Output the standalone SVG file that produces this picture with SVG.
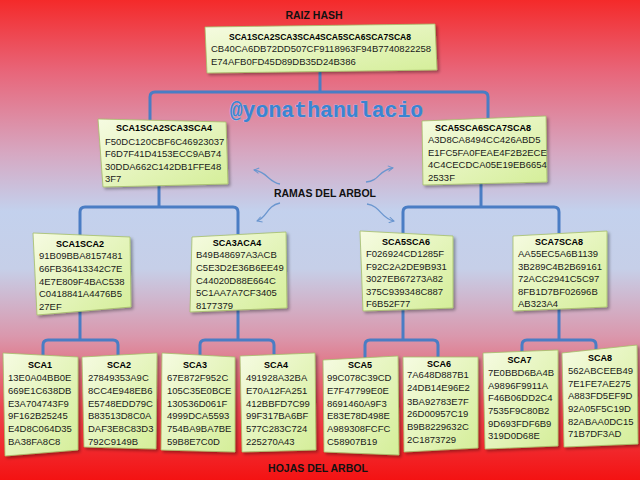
<svg xmlns="http://www.w3.org/2000/svg" width="640" height="480" viewBox="0 0 640 480">
<defs>
<linearGradient id="bg" x1="0" y1="0" x2="0" y2="1">
<stop offset="0" stop-color="#f42a2a"/>
<stop offset="0.15" stop-color="#e8667a"/>
<stop offset="0.32" stop-color="#d6a8c2"/>
<stop offset="0.44" stop-color="#c3d1ed"/>
<stop offset="0.56" stop-color="#c6cfe8"/>
<stop offset="0.7" stop-color="#da98ad"/>
<stop offset="0.85" stop-color="#ec4650"/>
<stop offset="1" stop-color="#f41212"/>
</linearGradient>
<linearGradient id="paper" x1="0" y1="0" x2="1" y2="1">
<stop offset="0" stop-color="#f6fbe2"/>
<stop offset="1" stop-color="#d4ee98"/>
</linearGradient>
<filter id="sh" x="-10%" y="-10%" width="125%" height="125%">
<feDropShadow dx="2" dy="2" stdDeviation="1.5" flood-color="#000" flood-opacity="0.35"/>
</filter>
<marker id="ah" viewBox="0 0 10 10" refX="8" refY="5" markerWidth="7" markerHeight="7" orient="auto-start-reverse" markerUnits="userSpaceOnUse">
<path d="M1,1 L8,5 L1,9" fill="none" stroke="#6a96cf" stroke-width="1.4"/>
</marker>
<style>
.box{fill:url(#paper);stroke:#a4bf68;stroke-width:0.8;filter:url(#sh)}
.t{font-family:"Liberation Sans",Arial,sans-serif;font-size:9.5px;fill:#1a1a1a}
.h{font-family:"Liberation Sans",Arial,sans-serif;font-size:9px;font-weight:bold;fill:#000;text-anchor:middle}
.lbl{font-family:"Liberation Sans",Arial,sans-serif;font-size:10.5px;font-weight:bold;fill:#111;text-anchor:middle}
.con{fill:none;stroke:#4a7dc4;stroke-width:3}
.arr{fill:none;stroke:#6a96cf;stroke-width:1.3}
</style>
</defs>
<rect x="0" y="0" width="640" height="480" fill="url(#bg)"/>

<text class="lbl" x="314" y="19">RAIZ HASH</text>
<text x="326.5" y="117" font-family="Liberation Mono,Courier New,monospace" font-size="21.5" font-weight="bold" fill="#3a84d2" text-anchor="middle" stroke="#b4d0ee" stroke-width="0.5" paint-order="stroke">@yonathanulacio</text>
<text class="lbl" x="325" y="197">RAMAS DEL ARBOL</text>
<text class="lbl" x="318" y="472" fill="#1a0000">HOJAS DEL ARBOL</text>

<g id="arrows">
<path class="arr" d="M280,184 C268,182 268,172 254,170" marker-end="url(#ah)"/>
<path class="arr" d="M366,182 C380,181 378,170 393,168" marker-end="url(#ah)"/>
<path class="arr" d="M280,203 C266,206 268,217 257,221" marker-end="url(#ah)"/>
<path class="arr" d="M367,204 C381,206 380,218 394,221" marker-end="url(#ah)"/>
</g>

<g id="connectors">
<path class="con" d="M320,70 V92"/>
<path class="con" d="M150,120 V97 Q150,92 155,92 H483 Q488,92 488,97 V118"/>
<path class="con" d="M159,184 V207"/>
<path class="con" d="M80,235 V212 Q80,207 85,207 H233 Q238,207 238,212 V234"/>
<path class="con" d="M481,183 V207"/>
<path class="con" d="M403,233 V212 Q403,207 408,207 H554 Q559,207 559,212 V233"/>
<path class="con" d="M80,310 V340"/>
<path class="con" d="M43,355 V345 Q43,340 48,340 H113 Q118,340 118,345 V356"/>
<path class="con" d="M238,308 V340"/>
<path class="con" d="M200,355 V345 Q200,340 205,340 H269 Q274,340 274,345 V356"/>
<path class="con" d="M403,308 V340"/>
<path class="con" d="M365,360 V345 Q365,340 370,340 H433 Q438,340 438,345 V358"/>
<path class="con" d="M559,308 V340"/>
<path class="con" d="M522,352 V345 Q522,340 527,340 H591 Q596,340 596,345 V349"/>
</g>

<g id="root">
<polygon class="box" points="205,27 435,24 437,70 207,73"/>
<text class="h" x="320" y="39.5" textLength="182" lengthAdjust="spacingAndGlyphs">SCA1SCA2SCA3SCA4SCA5SCA6SCA7SCA8</text>
<text class="t" x="211" y="51.5">CB40CA6DB72DD507CF9118963F94B7740822258</text>
<text class="t" x="211" y="64.5">E74AFB0FD45D89DB35D24B386</text>
</g>

<g id="n1234">
<polygon class="box" points="98,119 226,122 228,184 103,187"/>
<text class="h" x="164" y="130.5">SCA1SCA2SCA3SCA4</text>
<text class="t" x="105" y="144.5">F50DC120CBF6C46923037</text>
<text class="t" x="105" y="156.5">F6D7F41D4153ECC9AB74</text>
<text class="t" x="105" y="169.5">30DDA662C142DB1FFE48</text>
<text class="t" x="105" y="181.5">3F7</text>
</g>

<g id="n5678">
<polygon class="box" points="422,121 546,116 547,182 423,185"/>
<text class="h" x="483" y="130.5">SCA5SCA6SCA7SCA8</text>
<text class="t" x="428" y="142.5">A3D8CA8494CC426ABD5</text>
<text class="t" x="428" y="155.5">E1FC5FA0FEAE4F2B2ECE</text>
<text class="t" x="428" y="167.5">4C4CECDCA05E19EB6654</text>
<text class="t" x="428" y="180.5">2533F</text>
</g>

<g id="n12">
<polygon class="box" points="33,233 130,237 131,307 37,315"/>
<text class="h" x="80" y="246.5">SCA1SCA2</text>
<text class="t" x="39" y="258.5">91B09BBA8157481</text>
<text class="t" x="39" y="271.5">66FB36413342C7E</text>
<text class="t" x="39" y="284.5">4E7E809F4BAC538</text>
<text class="t" x="39" y="296.5">C0418841A4476B5</text>
<text class="t" x="39" y="309.5">27EF</text>
</g>

<g id="n34">
<polygon class="box" points="192,237 286,232 287,308 190,312"/>
<text class="h" x="237" y="245.5">SCA3ACA4</text>
<text class="t" x="196" y="257.5">B49B48697A3ACB</text>
<text class="t" x="196" y="270.5">C5E3D2E36B6EE49</text>
<text class="t" x="196" y="283.5">C44020D88E664C</text>
<text class="t" x="196" y="295.5">5C1AA7A7CF3405</text>
<text class="t" x="196" y="308.5">8177379</text>
</g>

<g id="n56">
<polygon class="box" points="360,231 453,236 453,308 363,311"/>
<text class="h" x="406" y="244.5">SCA5SCA6</text>
<text class="t" x="366" y="256.5">F026924CD1285F</text>
<text class="t" x="366" y="269.5">F92C2A2DE9B931</text>
<text class="t" x="366" y="281.5">3027EB67273A82</text>
<text class="t" x="366" y="294.5">375C939348C887</text>
<text class="t" x="366" y="306.5">F6B52F77</text>
</g>

<g id="n78">
<polygon class="box" points="513,236 607,231 607,307 513,311"/>
<text class="h" x="559" y="244.5">SCA7SCA8</text>
<text class="t" x="518" y="256.5">AA55EC5A6B1139</text>
<text class="t" x="518" y="269.5">3B289C4B2B69161</text>
<text class="t" x="518" y="281.5">72ACC2941C5C97</text>
<text class="t" x="518" y="294.5">8FB1D7BF02696B</text>
<text class="t" x="518" y="306.5">AB323A4</text>
</g>

<g id="sca1">
<polygon class="box" points="3,353 78,357 78,450 5,456"/>
<text class="h" x="40" y="367.5">SCA1</text>
<text class="t" x="8" y="380.5">13E0A04BB0E</text>
<text class="t" x="8" y="393.5">669E1C638DB</text>
<text class="t" x="8" y="406.5">E3A704743F9</text>
<text class="t" x="8" y="418.5">9F162B25245</text>
<text class="t" x="8" y="431.5">E4D8C064D35</text>
<text class="t" x="8" y="444.5">BA38FA8C8</text>
</g>

<g id="sca2">
<polygon class="box" points="82,357 157,353 156,449 84,447"/>
<text class="h" x="119" y="367.5">SCA2</text>
<text class="t" x="88" y="380.5">27849353A9C</text>
<text class="t" x="88" y="393.5">8CC4E948EB6</text>
<text class="t" x="88" y="406.5">E5748EDD79C</text>
<text class="t" x="88" y="418.5">B83513D8C0A</text>
<text class="t" x="88" y="431.5">DAF3E8C83D3</text>
<text class="t" x="88" y="444.5">792C9149B</text>
</g>

<g id="sca3">
<polygon class="box" points="162,353 235,357 235,452 161,450"/>
<text class="h" x="195" y="367.5">SCA3</text>
<text class="t" x="167" y="380.5">67E872F952C</text>
<text class="t" x="167" y="393.5">105C35E0BCE</text>
<text class="t" x="167" y="406.5">130536D061F</text>
<text class="t" x="167" y="418.5">4999DCA5593</text>
<text class="t" x="167" y="431.5">754BA9BA7BE</text>
<text class="t" x="167" y="444.5">59B8E7C0D</text>
</g>

<g id="sca4">
<polygon class="box" points="240,356 315,353 316,450 242,452"/>
<text class="h" x="276" y="367.5">SCA4</text>
<text class="t" x="246" y="380.5">491928A32BA</text>
<text class="t" x="246" y="393.5">E70A12FA251</text>
<text class="t" x="246" y="406.5">412BBFD7C99</text>
<text class="t" x="246" y="418.5">99F317BA6BF</text>
<text class="t" x="246" y="431.5">577C283C724</text>
<text class="t" x="246" y="444.5">225270A43</text>
</g>

<g id="sca5">
<polygon class="box" points="323,360 398,356 399,455 324,452"/>
<text class="h" x="360" y="367.5">SCA5</text>
<text class="t" x="327" y="380.5">99C078C39CD</text>
<text class="t" x="327" y="393.5">E7F47799E0E</text>
<text class="t" x="327" y="406.5">8691460A9F3</text>
<text class="t" x="327" y="418.5">E83E78D498E</text>
<text class="t" x="327" y="431.5">A989308FCFC</text>
<text class="t" x="327" y="444.5">C58907B19</text>
</g>

<g id="sca6">
<polygon class="box" points="403,357 478,357 478,448 404,452"/>
<text class="h" x="439" y="366.5">SCA6</text>
<text class="t" x="407" y="377.5">7A648D887B1</text>
<text class="t" x="407" y="390.5">24DB14E96E2</text>
<text class="t" x="407" y="404.5">3BA92783E7F</text>
<text class="t" x="407" y="416.5">26D00957C19</text>
<text class="t" x="407" y="429.5">B9B8229632C</text>
<text class="t" x="407" y="442.5">2C1873729</text>
</g>

<g id="sca7">
<polygon class="box" points="483,353 558,350 558,446 485,449"/>
<text class="h" x="519.5" y="362.5">SCA7</text>
<text class="t" x="488" y="375.5">7E0BBD6BA4B</text>
<text class="t" x="488" y="388.5">A9896F9911A</text>
<text class="t" x="488" y="400.5">F46B06DD2C4</text>
<text class="t" x="488" y="413.5">7535F9C80B2</text>
<text class="t" x="488" y="426.5">9D693FDF6B9</text>
<text class="t" x="488" y="438.5">319D0D68E</text>
</g>

<g id="sca8">
<polygon class="box" points="562,353 637,345 638,444 564,447"/>
<text class="h" x="600" y="360.5">SCA8</text>
<text class="t" x="568" y="373.5">562ABCEEB49</text>
<text class="t" x="568" y="386.5">7E1FE7AE275</text>
<text class="t" x="568" y="398.5">A883FD5EF9D</text>
<text class="t" x="568" y="411.5">92A05F5C19D</text>
<text class="t" x="568" y="424.5">82ABAA0DC15</text>
<text class="t" x="568" y="436.5">71B7DF3AD</text>
</g>
</svg>
